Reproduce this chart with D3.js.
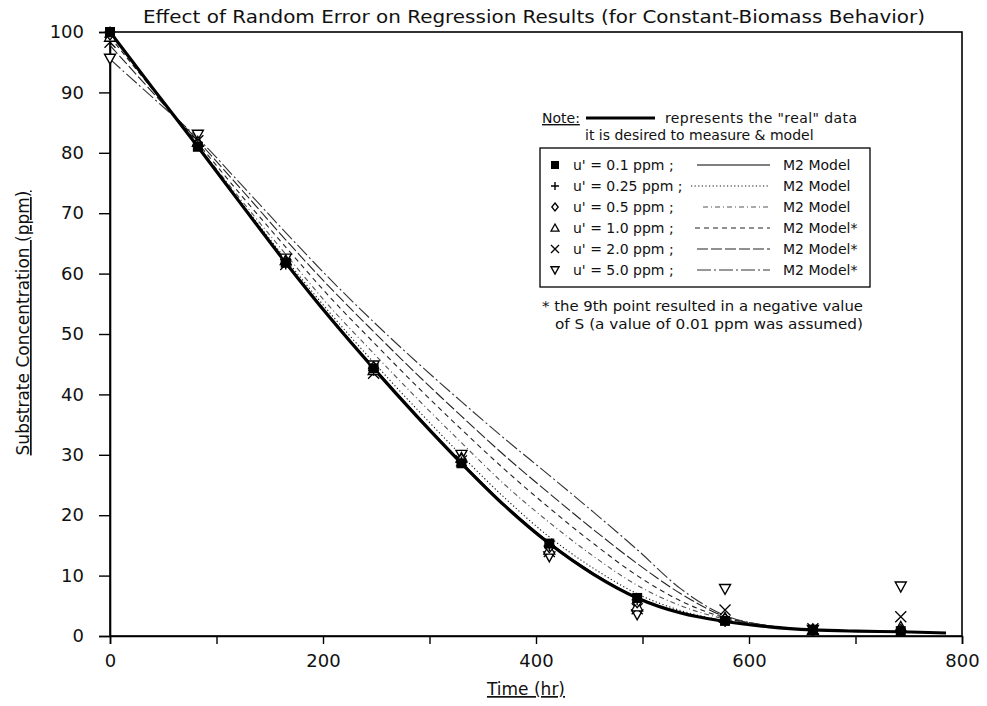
<!DOCTYPE html>
<html>
<head>
<meta charset="utf-8">
<script src="https://cdn.jsdelivr.net/npm/d3@7/dist/d3.min.js"></script>
<style>
  html, body { margin: 0; padding: 0; background: #fff; }
  svg { display: block; }
  text { font-family: "DejaVu Sans", sans-serif; fill: #111; }
</style>
</head>
<body>
<svg id="chart" width="987" height="706"></svg>
<script>
// ---------------- DATA ----------------
const titleText = "Effect of Random Error on Regression Results (for Constant-Biomass Behavior)";
const xLabel = "Time (hr)";
const yLabel = "Substrate Concentration (ppm)";
const xTicks = [0, 100, 200, 300, 400, 500, 600, 700, 800];
const xTickLabels = [0, 200, 400, 600, 800];
const yTicks = [0, 10, 20, 30, 40, 50, 60, 70, 80, 90, 100];

// sampling times (hr)
const sampleTimes = [0, 82.5, 165, 247.5, 330, 412.5, 495, 577.5, 660, 742.5];

// measured points for each noise level u'
const pts01  = [100, 81.0, 61.8, 44.3, 28.6, 15.3, 6.3, 2.5, 1.0, 0.8];
const pts025 = [100, 81.2, 61.6, 44.0, 28.8, 15.0, 6.0, 2.4, 1.0, 0.8];
const pts05  = [99.6, 81.4, 61.9, 44.5, 29.2, 14.7, 5.6, 2.8, 1.1, 1.0];
const pts1   = [99.2, 81.8, 62.2, 44.0, 29.5, 14.3, 4.9, 3.0, 1.0, 1.5];
const pts2   = [98.3, 82.0, 61.5, 43.5, 29.0, 14.0, 4.5, 4.3, 1.2, 3.2];
const pts5   = [95.6, 83.0, 62.5, 44.8, 30.0, 13.2, 3.6, 7.8, 1.0, 8.2];

// curve times (hr)
const curveTimes = [0, 41, 82.5, 124, 165, 206, 247.5, 289, 330, 371, 412.5, 454, 495, 536, 577.5, 619, 660, 701, 742.5, 785];
// the "real" data curve
const realCurve = [100, 90.5, 81.0, 71.3, 61.8, 52.8, 44.3, 36.2, 28.6, 21.5, 15.3, 10.2, 6.3, 3.8, 2.4, 1.5, 1.0, 0.8, 0.7, 0.5];
// M2 model fits
const model01  = [100, 90.5, 81.0, 71.4, 61.9, 53.0, 44.5, 36.4, 28.8, 21.7, 15.5, 10.4, 6.4, 3.9, 2.4, 1.5, 1.0, 0.8, 0.7, 0.5];
const model025 = [100, 90.5, 81.1, 71.6, 62.4, 53.6, 45.3, 37.4, 29.9, 22.8, 16.4, 11.2, 7.0, 4.2, 2.5, 1.5, 1.0, 0.8, 0.7, 0.5];
const model05  = [99.8, 90.4, 81.2, 72.0, 63.2, 54.6, 46.8, 39.2, 32.0, 25.0, 18.8, 13.2, 8.4, 5.0, 2.8, 1.6, 1.0, 0.8, 0.7, 0.5];
const model1   = [99.2, 90.3, 81.6, 72.8, 64.4, 56.2, 48.6, 41.2, 34.2, 27.5, 21.2, 15.3, 10.0, 5.8, 3.0, 1.6, 1.0, 0.8, 0.7, 0.5];
const model2   = [97.8, 89.8, 82.0, 73.8, 65.6, 57.8, 50.4, 43.2, 36.4, 29.8, 23.6, 17.6, 12.0, 7.0, 3.2, 1.7, 1.0, 0.8, 0.7, 0.5];
const model5   = [95.5, 89.0, 82.4, 74.6, 66.8, 59.2, 52.0, 45.2, 38.8, 32.6, 26.6, 20.5, 14.3, 7.8, 3.4, 1.7, 1.0, 0.8, 0.7, 0.5];

const seriesLabels = ["u' = 0.1 ppm ;", "u' = 0.25 ppm ;", "u' = 0.5 ppm ;", "u' = 1.0 ppm ;", "u' = 2.0 ppm ;", "u' = 5.0 ppm ;"];
const modelLabels = ["M2 Model", "M2 Model", "M2 Model", "M2 Model*", "M2 Model*", "M2 Model*"];
const noteLine1 = "represents the \"real\" data";
const noteLine2 = "it is desired to measure & model";
const footLine1 = "* the 9th point resulted in a negative value";
const footLine2 = "of S (a value of 0.01 ppm was assumed)";

// ---------------- STYLES ----------------
const markerTypes = ["square", "plus", "diamond", "triUp", "cross", "triDown"];
const dashStyles = [null, "1.2,2.4", "5,3,1,3", "5,4", "11,3", "14,3,2,3"];
const strokeCols = ["#000", "#111", "#555", "#222", "#222", "#333"];
const pointSets = [pts01, pts025, pts05, pts1, pts2, pts5];
const modelSets = [model01, model025, model05, model1, model2, model5];

const svg = d3.select("#chart");
const L = 110, R = 962, T = 32, B = 636;
const x = d3.scaleLinear().domain([0, 800]).range([L, R]);
const y = d3.scaleLinear().domain([0, 100]).range([B, T]);

// title
svg.append("text").attr("x", 534).attr("y", 23).attr("text-anchor", "middle")
  .attr("font-size", 17).attr("textLength", 782).attr("lengthAdjust", "spacingAndGlyphs")
  .text(titleText);

// frame
svg.append("rect").attr("x", L).attr("y", T).attr("width", R - L).attr("height", B - T)
  .attr("fill", "none").attr("stroke", "#000").attr("stroke-width", 1.6);

// axes
const yAxis = d3.axisLeft(y).tickValues(yTicks).tickSize(11).tickPadding(15).tickFormat(d3.format("d"));
const gy = svg.append("g").attr("transform", `translate(${L},0)`).call(yAxis);
const xAxis = d3.axisBottom(x).tickValues(xTicks).tickSize(8).tickPadding(10)
  .tickFormat(d => xTickLabels.includes(d) ? d : "");
const gx = svg.append("g").attr("transform", `translate(0,${B})`).call(xAxis);
[gx, gy].forEach(g => {
  g.select(".domain").attr("stroke", "#000").attr("stroke-width", 1.6);
  g.selectAll(".tick line").attr("stroke", "#000").attr("stroke-width", 1.4);
  g.selectAll(".tick text").attr("font-size", 18).attr("font-family", "DejaVu Sans").attr("fill", "#111");
});

// axis labels (underlined)
svg.append("text").attr("x", 526).attr("y", 695).attr("text-anchor", "middle")
  .attr("font-size", 17).attr("text-decoration", "underline").text(xLabel);
svg.append("text").attr("transform", "translate(29,323) rotate(-90)").attr("text-anchor", "middle")
  .attr("font-size", 17).attr("text-decoration", "underline").text(yLabel);

// curves
const line = d3.line().x(d => x(d[0])).y(d => y(d[1])).curve(d3.curveMonotoneX);
const curveG = svg.append("g");
modelSets.forEach((m, i) => {
  curveG.append("path").datum(curveTimes.map((t, k) => [t, m[k]]))
    .attr("d", line).attr("fill", "none").attr("stroke", strokeCols[i])
    .attr("stroke-width", i === 0 ? 1.2 : 1.1)
    .attr("stroke-dasharray", dashStyles[i]);
});
curveG.append("path").datum(curveTimes.map((t, k) => [t, realCurve[k]]))
  .attr("d", line).attr("fill", "none").attr("stroke", "#000").attr("stroke-width", 3.2);

// marker drawing
function drawMarker(g, type, cx, cy, s) {
  const h = s / 2;
  if (type === "square") {
    g.append("rect").attr("x", cx - h).attr("y", cy - h).attr("width", s).attr("height", s).attr("fill", "#000");
  } else if (type === "plus") {
    g.append("path").attr("d", `M${cx - h},${cy}H${cx + h}M${cx},${cy - h}V${cy + h}`).attr("stroke", "#000").attr("stroke-width", 1.4).attr("fill", "none");
  } else if (type === "diamond") {
    g.append("path").attr("d", `M${cx},${cy - h}L${cx + h * 0.8},${cy}L${cx},${cy + h}L${cx - h * 0.8},${cy}Z`).attr("stroke", "#000").attr("stroke-width", 1.3).attr("fill", "#fff");
  } else if (type === "triUp") {
    g.append("path").attr("d", `M${cx},${cy - h}L${cx + h},${cy + h * 0.8}L${cx - h},${cy + h * 0.8}Z`).attr("stroke", "#000").attr("stroke-width", 1.3).attr("fill", "#fff");
  } else if (type === "cross") {
    g.append("path").attr("d", `M${cx - h},${cy - h}L${cx + h},${cy + h}M${cx + h},${cy - h}L${cx - h},${cy + h}`).attr("stroke", "#000").attr("stroke-width", 1.3).attr("fill", "none");
  } else if (type === "triDown") {
    g.append("path").attr("d", `M${cx - h},${cy - h * 0.8}L${cx + h},${cy - h * 0.8}L${cx},${cy + h}Z`).attr("stroke", "#000").attr("stroke-width", 1.4).attr("fill", "#fff");
  }
}

// data points: draw noisy sets first, most precise last
const ptG = svg.append("g");
for (let i = pointSets.length - 1; i >= 0; i--) {
  pointSets[i].forEach((v, k) => drawMarker(ptG, markerTypes[i], x(sampleTimes[k]), y(v), i === 0 ? 10 : 11));
}

// legend note
svg.append("text").attr("x", 542).attr("y", 123).attr("font-size", 14).attr("text-decoration", "underline").text("Note:");
svg.append("line").attr("x1", 586).attr("x2", 655).attr("y1", 118).attr("y2", 118).attr("stroke", "#000").attr("stroke-width", 3);
svg.append("text").attr("x", 665).attr("y", 123).attr("font-size", 14).attr("textLength", 192).attr("lengthAdjust", "spacing").text(noteLine1);
svg.append("text").attr("x", 585).attr("y", 140).attr("font-size", 14).text(noteLine2);

// legend box
const lg = svg.append("g");
lg.append("rect").attr("x", 540).attr("y", 148).attr("width", 330).attr("height", 139)
  .attr("fill", "#fff").attr("stroke", "#000").attr("stroke-width", 1.3);
const sampleStart = [697, 691, 703, 695, 697, 697];
seriesLabels.forEach((lab, i) => {
  const cy = 165 + i * 21;
  drawMarker(lg, markerTypes[i], 555, cy, 8);
  lg.append("text").attr("x", 573).attr("y", cy + 5).attr("font-size", 14).text(lab);
  lg.append("line").attr("x1", sampleStart[i]).attr("x2", 770).attr("y1", cy).attr("y2", cy)
    .attr("stroke", strokeCols[i]).attr("stroke-width", 1.2).attr("stroke-dasharray", dashStyles[i]);
  lg.append("text").attr("x", 783).attr("y", cy + 5).attr("font-size", 14).text(modelLabels[i]);
});

// footnote
svg.append("text").attr("x", 542).attr("y", 311).attr("font-size", 13.5).attr("textLength", 321).attr("lengthAdjust", "spacingAndGlyphs").text(footLine1);
svg.append("text").attr("x", 555).attr("y", 329).attr("font-size", 13.5).attr("textLength", 308).attr("lengthAdjust", "spacingAndGlyphs").text(footLine2);
</script>
</body>
</html>
